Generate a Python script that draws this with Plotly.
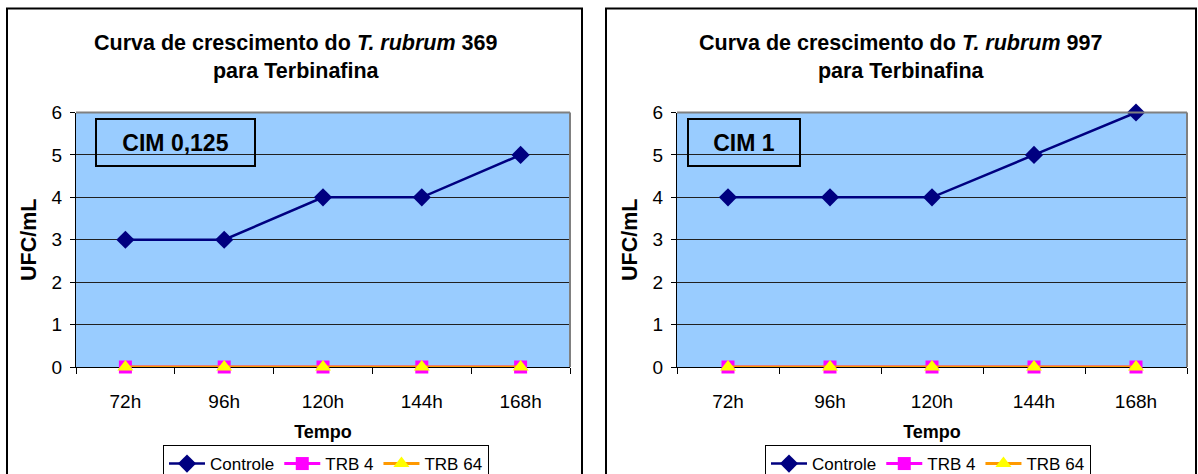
import plotly.graph_objects as go

W, H = 1198, 474
categories = ["72h", "96h", "120h", "144h", "168h"]
controle_369 = [3, 3, 4, 4, 5]
trb4_369 = [0, 0, 0, 0, 0]
trb64_369 = [0, 0, 0, 0, 0]
controle_997 = [4, 4, 4, 5, 6]
trb4_997 = [0, 0, 0, 0, 0]
trb64_997 = [0, 0, 0, 0, 0]
y_ticks = [0, 1, 2, 3, 4, 5, 6]
titles = ["<b>Curva de crescimento do <i>T. rubrum</i> 369</b><br><b>para Terbinafina</b>",
          "<b>Curva de crescimento do <i>T. rubrum</i> 997</b><br><b>para Terbinafina</b>"]
cim_labels = ["<b>CIM 0,125</b>", "<b>CIM 1</b>"]

FONT = "Arial, Liberation Sans, sans-serif"

def px(x):
    return x / W

def py(y):
    return 1 - y / H

fig = go.Figure()

panels = [
    dict(ctrl=controle_369, t4=trb4_369, t64=trb64_369, xa="x", ya="y", leg="legend"),
    dict(ctrl=controle_997, t4=trb4_997, t64=trb64_997, xa="x2", ya="y2", leg="legend2"),
]
for p in panels:
    fig.add_trace(go.Scatter(x=categories, y=p["ctrl"], name="Controle", mode="lines+markers",
                             line=dict(color="#000080", width=2.5), cliponaxis=False,
                             marker=dict(symbol="diamond", size=14, color="#000080"),
                             xaxis=p["xa"], yaxis=p["ya"], legend=p["leg"]))
    fig.add_trace(go.Scatter(x=categories, y=p["t4"], name="TRB 4", mode="lines+markers",
                             line=dict(color="#FF00FF", width=3), cliponaxis=False,
                             marker=dict(symbol="square", size=13, color="#FF00FF"),
                             xaxis=p["xa"], yaxis=p["ya"], legend=p["leg"]))
    fig.add_trace(go.Scatter(x=categories, y=p["t64"], name="TRB 64", mode="lines+markers",
                             line=dict(color="#FF9900", width=3), cliponaxis=False,
                             marker=dict(symbol="triangle-up", size=14, color="#FFFF00"),
                             xaxis=p["xa"], yaxis=p["ya"], legend=p["leg"]))

ydom = [py(367), py(112.5)]
axis_common_x = dict(type="category", showgrid=False, showline=True, linecolor="black", linewidth=1,
                     ticks="outside", tickson="boundaries", ticklen=6, tickcolor="black",
                     ticklabelstandoff=17, layer="below traces",
                     tickfont=dict(family=FONT, size=19, color="black"),
                     title=dict(text="<b>Tempo</b>", font=dict(family=FONT, size=18, color="black"), standoff=14),
                     range=[-0.5, 4.5], fixedrange=True, zeroline=False)
axis_common_y = dict(range=[0, 6], tickvals=y_ticks, showgrid=True, gridcolor="#202020", gridwidth=1,
                     showline=True, linecolor="black", linewidth=1, ticks="outside", ticklen=5,
                     tickcolor="black", tickfont=dict(family=FONT, size=19, color="black"),
                     ticklabelstandoff=4, layer="below traces",
                     title=dict(text="<b>UFC/mL</b>", font=dict(family=FONT, size=21.5, color="black"), standoff=9),
                     zeroline=False, fixedrange=True)

leg_common = dict(orientation="h", xanchor="left", yanchor="top",
                  bordercolor="black", borderwidth=1, bgcolor="white",
                  font=dict(family=FONT, size=17, color="black"), itemwidth=36,
                  tracegroupgap=0)

fig.update_layout(
    width=W, height=H, margin=dict(l=0, r=0, t=0, b=0, autoexpand=False),
    paper_bgcolor="white", plot_bgcolor="#99CCFF",
    showlegend=True,
    xaxis=dict(domain=[px(76), px(570)], anchor="y", **axis_common_x),
    yaxis=dict(domain=ydom, anchor="x", **axis_common_y),
    xaxis2=dict(domain=[px(677), px(1187)], anchor="y2", **axis_common_x),
    yaxis2=dict(domain=ydom, anchor="x2", **axis_common_y),
    legend=dict(x=px(163), y=py(445), **leg_common),
    legend2=dict(x=px(765), y=py(445), **leg_common),
)

# plot-area gray borders (top & right)
for x0, x1 in [(76, 570), (677, 1187)]:
    fig.add_shape(type="line", xref="paper", yref="paper", x0=px(x0), x1=px(x1), y0=ydom[1], y1=ydom[1],
                  line=dict(color="#808080", width=2))
    fig.add_shape(type="line", xref="paper", yref="paper", x0=px(x1), x1=px(x1), y0=ydom[0], y1=ydom[1],
                  line=dict(color="#808080", width=2))

# outer chart frames
for x0, x1 in [(7, 582), (606, 1196)]:
    fig.add_shape(type="rect", xref="paper", yref="paper", x0=px(x0), x1=px(x1), y0=py(490), y1=py(8.5),
                  line=dict(color="black", width=2), fillcolor="rgba(0,0,0,0)", layer="above")

# titles
for cx, t in zip([295, 900], titles):
    fig.add_annotation(text=t, xref="paper", yref="paper", x=px(cx), y=py(57), xanchor="center",
                       yanchor="middle", showarrow=False, align="center",
                       font=dict(family=FONT, size=21.5, color="black"))

# CIM boxes
for (cx, w), t in zip([(175.5, 157), (744, 110)], cim_labels):
    fig.add_annotation(text=t, xref="paper", yref="paper", x=px(cx), y=py(142.5), xanchor="center",
                       yanchor="middle", showarrow=False, width=w, height=45,
                       bordercolor="black", borderwidth=2, borderpad=0,
                       font=dict(family=FONT, size=23, color="black"))

fig.write_html("out.html", config={"displayModeBar": False},
               post_script="document.body.style.margin='0px';")
